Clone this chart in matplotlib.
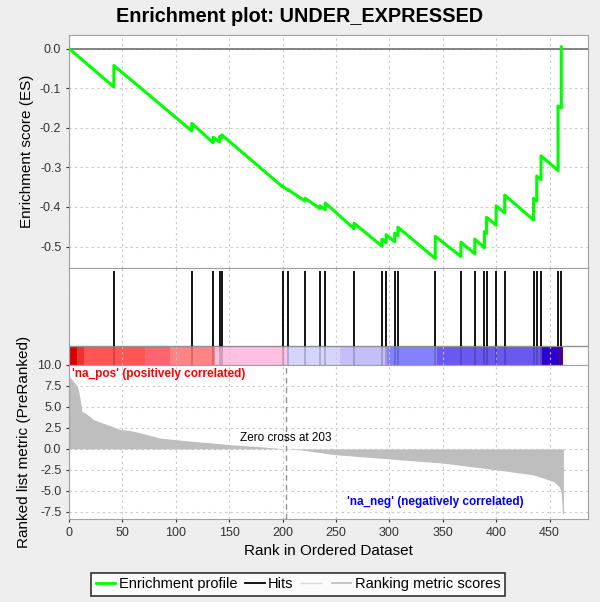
import numpy as np
import matplotlib
matplotlib.use("Agg")
from matplotlib import pyplot as plt
from matplotlib.lines import Line2D

plt.rcParams['font.family'] = ['Liberation Sans', 'DejaVu Sans']

# ---- data ----
n_genes = 463
zero_cross = 203

hit_ranks = [42, 115, 135, 141, 143, 200, 205, 221, 235, 240, 267, 293, 297,
             305, 308, 343, 367, 380, 389, 391, 400, 408, 435, 438, 442, 458, 461]
es_before = [-0.097, -0.208, -0.238, -0.236, -0.226, -0.349, -0.358, -0.385,
             -0.404, -0.407, -0.455, -0.499, -0.490, -0.488, -0.473, -0.530,
             -0.525, -0.518, -0.503, -0.467, -0.446, -0.415, -0.433, -0.385,
             -0.331, -0.308, -0.150]
es_after = [-0.043, -0.189, -0.224, -0.222, -0.218, -0.347, -0.356, -0.378,
            -0.397, -0.390, -0.441, -0.481, -0.470, -0.466, -0.451, -0.474,
            -0.489, -0.481, -0.462, -0.426, -0.397, -0.370, -0.378, -0.322,
            -0.271, -0.145, 0.004]

metric_rank = [0, 1, 5, 8, 9, 11, 12, 16, 23, 29, 40, 48, 57, 70, 85, 100, 116,
               135, 151, 175, 203, 216, 250, 301, 310, 351, 401, 435, 454,
               459, 461, 462, 463]
metric_val = [8.5, 8.5, 7.9, 7.4, 6.9, 5.5, 4.5, 4.2, 3.5, 3.2, 2.7, 2.3, 2.2,
              1.8, 1.3, 1.1, 0.9, 0.7, 0.5, 0.3, 0.0, -0.1, -0.7, -1.2, -1.3,
              -1.7, -2.5, -3.1, -3.9, -4.5, -5.2, -7.7, -7.7]

bar_edges = [0, 7.5, 14, 71, 95, 137, 204, 254, 298, 345, 443, 458, 463]
bar_colors = ['#d80000', '#ee3030', '#ff5555', '#ff6470', '#ff8585', '#ffc0e2',
              '#d4d4ff', '#c4bff8', '#8282ff', '#6a58f0', '#2c00d2', '#5200a8']

xmax = 486
bg = '#eeeeee'
grid_kw = dict(color='#c8c8c8', linestyle=(0, (2, 3)), linewidth=0.8)

fig = plt.figure(figsize=(6.0, 6.02), dpi=100, facecolor=bg)
left, width = 0.115, 0.865
ax_es = fig.add_axes([left, 0.5548, width, 0.387])
ax_hit = fig.add_axes([left, 0.3937, width, 0.1611])
ax_rm = fig.add_axes([left, 0.1379, width, 0.2558])

xt = np.arange(0, 451, 50)

# enrichment profile
xs, ys = [0], [0.0]
for r, b, a in zip(hit_ranks, es_before, es_after):
    xs += [r, r]
    ys += [b, a]
ax_es.grid(True, **grid_kw)
ax_es.axhline(0, color='#707070', linewidth=1.2, zorder=2.5)
ax_es.plot(xs, ys, color='#00ff00', linewidth=2.2, zorder=3)
ax_es.set_xlim(0, xmax)
ax_es.set_ylim(-0.554, 0.034)
ax_es.set_yticks([0.0, -0.1, -0.2, -0.3, -0.4, -0.5])
ax_es.set_yticklabels(['0.0', '-0.1', '-0.2', '-0.3', '-0.4', '-0.5'])
ax_es.set_xticks(xt)
ax_es.tick_params(axis='x', length=0, labelbottom=False)
ax_es.set_ylabel('Enrichment score (ES)', fontsize=11)
fig.suptitle('Enrichment plot: UNDER_EXPRESSED', x=0.5, y=0.972, va='center',
             fontsize=14.3, fontweight='bold')

# hits + colour bar
bar_top = 0.196
for i, c in enumerate(bar_colors):
    ax_hit.axvspan(bar_edges[i], bar_edges[i + 1], ymin=0, ymax=bar_top,
                   facecolor=c, edgecolor='none', zorder=1)
ax_hit.axhline(bar_top, color='#909090', linewidth=1.0, zorder=2)
ax_hit.vlines(hit_ranks, bar_top, 0.97, color='black', linewidth=1.3, zorder=3)
ax_hit.vlines(hit_ranks, 0, bar_top, color='black', linewidth=1.3, alpha=0.2, zorder=3)
ax_hit.set_xlim(0, xmax)
ax_hit.set_ylim(0, 1)
ax_hit.set_xticks(xt)
ax_hit.set_yticks([])
ax_hit.tick_params(axis='x', length=0, labelbottom=False)
ax_hit.grid(True, axis='x', zorder=0, **grid_kw)

# ranked list metric
ax_rm.fill_between(metric_rank, metric_val, 0, color='#bebebe', linewidth=0, zorder=2)
ax_rm.axvline(zero_cross, color='#909090', linestyle=(0, (4, 3)), linewidth=1.0, zorder=3)
ax_rm.set_xlim(0, xmax)
ax_rm.set_ylim(-8.35, 10.0)
ax_rm.set_yticks([10.0, 7.5, 5.0, 2.5, 0.0, -2.5, -5.0, -7.5])
ax_rm.set_yticklabels(['10.0', '7.5', '5.0', '2.5', '0.0', '-2.5', '-5.0', '-7.5'])
ax_rm.set_xticks(xt)
ax_rm.grid(True, **grid_kw)
ax_rm.set_axisbelow(True)
ax_rm.text(zero_cross, 0.6, 'Zero cross at %d' % zero_cross, ha='center', va='bottom',
           fontsize=8.5, zorder=4)
ax_rm.text(3, 9.6, "'na_pos' (positively correlated)", color='#ff0000', fontsize=8.5,
           fontweight='bold', ha='left', va='top')
ax_rm.text(343, -7.1, "'na_neg' (negatively correlated)", color='#0000ff', fontsize=8.5,
           fontweight='bold', ha='center', va='bottom')
ax_rm.set_ylabel('Ranked list metric (PreRanked)', fontsize=11)
ax_rm.set_xlabel('Rank in Ordered Dataset', fontsize=11, labelpad=4)

for ax in (ax_es, ax_hit, ax_rm):
    for s in ax.spines.values():
        s.set_color('#a0a0a0')
    ax.tick_params(labelsize=9, colors='#333333', length=2)

handles = [Line2D([], [], color='#00ff00', linewidth=2),
           Line2D([], [], color='black', linewidth=1.3),
           Line2D([], [], color='#d8d8d8', linewidth=1.0),
           Line2D([], [], color='#c0c0c0', linewidth=1.3)]
labels = ['Enrichment profile', 'Hits', '', 'Ranking metric scores']
leg = fig.legend(handles, labels, loc='center', bbox_to_anchor=(0.497, 0.0295),
                 ncol=4, fontsize=10.5, frameon=True, fancybox=False,
                 handlelength=1.35, handletextpad=0.25, columnspacing=0.5,
                 borderpad=0.3, borderaxespad=0)
leg.get_frame().set_edgecolor('black')
leg.get_frame().set_linewidth(1.2)

fig.savefig('out.png', dpi=100, facecolor=bg)
